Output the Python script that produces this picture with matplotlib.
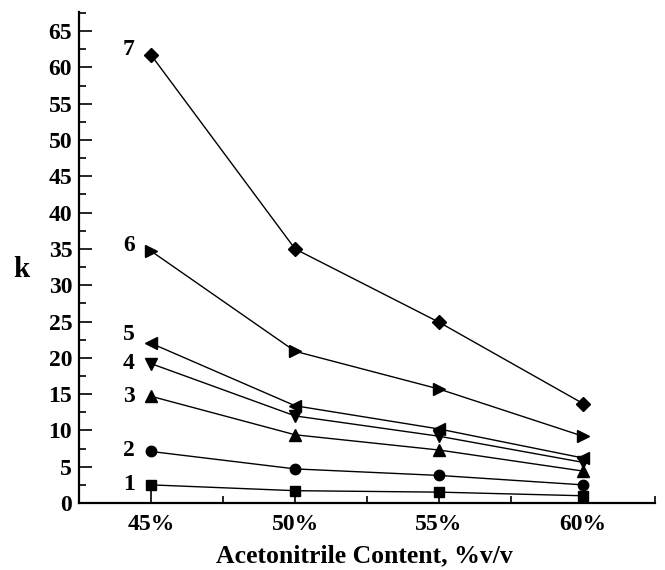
import numpy as np
import matplotlib.pyplot as plt
from matplotlib.ticker import MultipleLocator

# Datos
acetonitrilo = [45, 50, 55, 60]
etiquetas_x = ['45%', '50%', '55%', '60%']
k1 = [2.5, 1.7, 1.5, 1.0]
k2 = [7.1, 4.7, 3.8, 2.5]
k3 = [14.7, 9.4, 7.3, 4.4]
k4 = [19.2, 12.0, 9.2, 5.6]
k5 = [22.0, 13.4, 10.2, 6.2]
k6 = [34.7, 20.9, 15.7, 9.2]
k7 = [61.7, 35.0, 24.9, 13.7]

series = [k1, k2, k3, k4, k5, k6, k7]
nombres = ['1', '2', '3', '4', '5', '6', '7']
marcadores = ['s', 'o', '^', 'v', '<', '>', 'D']
tamanos = [6.5, 7.5, 8.5, 8.5, 8.5, 8.5, 7]
# desplazamiento vertical de cada numero (puntos)
dy = [0, 1, 0, 0, 6, 4, 4]

plt.rcParams['font.family'] = ['Liberation Serif', 'DejaVu Serif']
plt.rcParams['font.weight'] = 'bold'

fig = plt.figure(figsize=(6.65, 5.7), dpi=100)
ax = fig.add_axes([0.119, 0.1175, 0.866, 0.861])

for ys, nom, m, ms, d in zip(series, nombres, marcadores, tamanos, dy):
    ax.plot(acetonitrilo, ys, color='black', linewidth=1.0,
            marker=m, markersize=ms)
    ax.annotate(nom, (acetonitrilo[0], ys[0]), xytext=(-16, d),
                textcoords='offset points', ha='center', va='center',
                fontsize=17, fontweight='bold')

ax.set_xlim(42.5, 62.5)
ax.set_ylim(0, 67.6)
ax.set_xticks(acetonitrilo)
ax.set_xticklabels(etiquetas_x)
ax.xaxis.set_minor_locator(MultipleLocator(2.5))
ax.yaxis.set_major_locator(MultipleLocator(5))
ax.yaxis.set_minor_locator(MultipleLocator(2.5))

ax.spines['top'].set_visible(False)
ax.spines['right'].set_visible(False)
ax.spines['left'].set_linewidth(1.6)
ax.spines['bottom'].set_linewidth(1.6)

ax.tick_params(axis='both', which='major', direction='in', length=9, width=1.2,
               labelsize=17)
ax.tick_params(axis='both', which='minor', direction='in', length=5, width=1.2)
ax.tick_params(axis='x', pad=8)
ax.tick_params(axis='y', pad=5)
for lab in ax.get_xticklabels() + ax.get_yticklabels():
    lab.set_fontweight('bold')

ax.set_xlabel('Acetonitrile Content, %v/v', fontsize=18.5, fontweight='bold',
              va='center')
ax.xaxis.set_label_coords(0.495, -0.108)
ax.set_ylabel('k', fontsize=21, fontweight='bold', rotation=0, va='center')
ax.yaxis.set_label_coords(-0.1, 0.475)

fig.savefig('out.png', dpi=100)
